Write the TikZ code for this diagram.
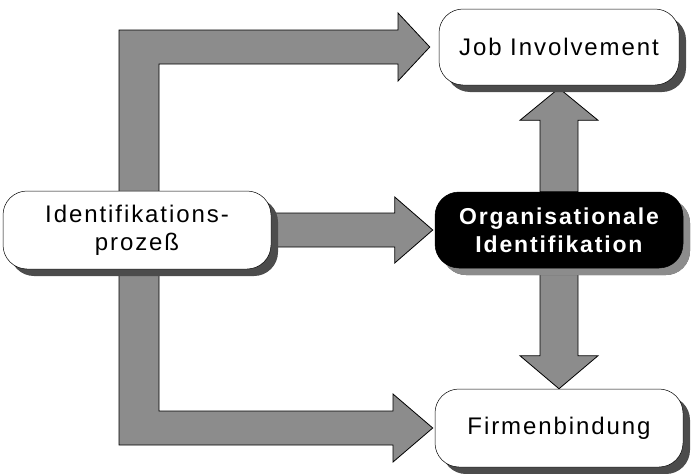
\documentclass[tikz,border=0pt]{standalone}
\usepackage{fontspec}
\setmainfont{Liberation Sans}
\newfontfamily\boxfont[LetterSpace=8]{Liberation Sans}
\usetikzlibrary{calc,shadows,backgrounds}

\tikzset{
  box/.style={draw=black,line width=0.5pt,fill=white,rounded corners=24pt,
    minimum width=248pt,minimum height=76pt,align=center,inner sep=0pt,
    font=\boxfont\fontsize{24}{28}\selectfont,
    drop shadow={shadow xshift=7pt,shadow yshift=-7pt,fill=black!70,opacity=1}},
  darkbox/.style={box,fill=black,text=white,font=\boxfont\bfseries\fontsize{23}{28}\selectfont,
    drop shadow={shadow xshift=7pt,shadow yshift=-7pt,fill=black!45,opacity=1}},
  blockarr/.style={fill=black!45,draw=black,line width=0.8pt}
}

\begin{document}
\begin{tikzpicture}[x=1pt,y=-1pt]
 \useasboundingbox (0,0) rectangle (691,474);
 % boxes
 \node[box,minimum width=268pt,minimum height=78pt] (ident) at (137,230) {Identifikations-\\prozeß};
 \node[box,minimum width=240pt] (job) at (559,47) {Job Involvement};
 \node[darkbox] (org) at (559,230) {Organisationale\\Identifikation};
 \node[box,minimum height=78pt] (firm) at (559,428) {Firmenbindung};
 % arrows
 \begin{scope}[on background layer]
 \draw[blockarr] (119,445) -- (119,30) -- (398,30) -- (398,13) -- ([xshift=-9pt]job.west)
   -- (398,81) -- (398,64) -- (159,64) -- (159,411) -- (393,411) -- (393,394)
   -- ([xshift=-2pt]firm.west) -- (393,462) -- (393,445) -- cycle;
 \draw[blockarr] ($(ident.east)+(-10,-17)$) -- ($(org.west)+(-40,-17)$) -- ($(org.west)+(-40,-33)$)
   -- ([xshift=-2pt]org.west) -- ($(org.west)+(-40,33)$) -- ($(org.west)+(-40,17)$)
   -- ($(ident.east)+(-10,17)$) -- cycle;
 \draw[blockarr] ($(org.north)+(-19,0)$) -- ($(job.south)+(-19,35)$) -- ($(job.south)+(-39,35)$)
   -- ([yshift=-3pt]job.south) -- ($(job.south)+(39,35)$) -- ($(job.south)+(19,35)$)
   -- ($(org.north)+(19,0)$) -- cycle;
 \draw[blockarr] ($(org.south)+(-19,0)$) -- ($(firm.north)+(-19,-33)$) -- ($(firm.north)+(-39,-33)$)
   -- (firm.north) -- ($(firm.north)+(39,-33)$) -- ($(firm.north)+(19,-33)$)
   -- ($(org.south)+(19,0)$) -- cycle;
 \end{scope}
\end{tikzpicture}
\end{document}
